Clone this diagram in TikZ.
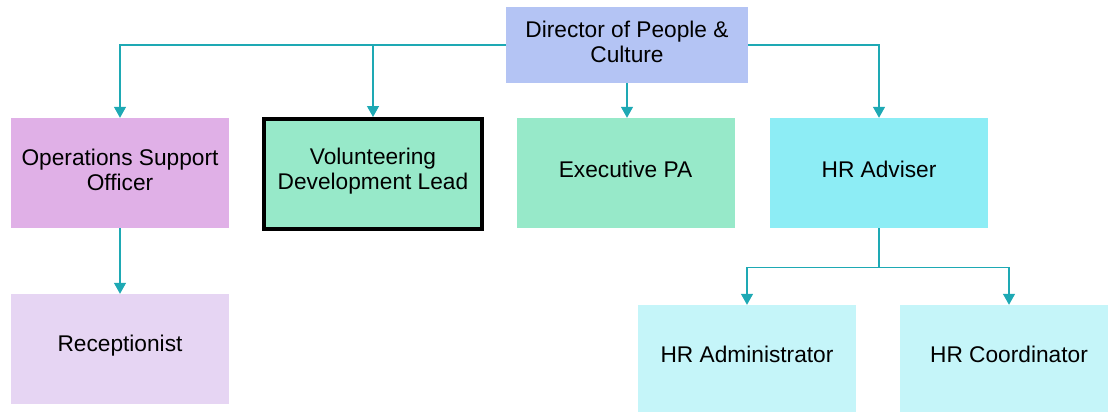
\documentclass[tikz,border=0pt]{standalone}
\usepackage{fontspec}
\setmainfont{Liberation Sans}
\usetikzlibrary{arrows.meta}

\definecolor{linkteal}{HTML}{1EA9B4}
\definecolor{dirblue}{HTML}{B4C4F4}
\definecolor{opsviolet}{HTML}{E0B0E7}
\definecolor{recviolet}{HTML}{E6D5F3}
\definecolor{mint}{HTML}{97E9C9}
\definecolor{hrcyan}{HTML}{8DEDF5}
\definecolor{hrpale}{HTML}{C5F5F9}

\tikzset{
  post/.style={minimum width=218pt, minimum height=110pt, inner sep=0pt, draw=none},
  lbl/.style={align=center, inner sep=0pt, text=black,
              font=\fontsize{22.7}{25}\selectfont},
  link/.style={draw=linkteal, line width=1.3pt,
               -{Triangle[width=12pt,length=11pt]}},
}

\begin{document}
\begin{tikzpicture}[x=1pt, y=-1pt]
  \useasboundingbox (0,0) rectangle (1108,412);

  % boxes
  \node[post, fill=dirblue, minimum width=242pt, minimum height=76pt] (dir) at (627,45) {};
  \node[post, fill=opsviolet] (ops) at (120,173) {};
  \node[post, fill=recviolet] (rec) at (120,349) {};
  \node[post, fill=mint, draw=black, line width=4pt] (vol) at (373,174) {};
  \node[post, fill=mint] (exec) at (625.5,173) {};
  \node[post, fill=hrcyan] (hra) at (879,173) {};
  \node[post, fill=hrpale, minimum height=107pt] (adm) at (747,358.5) {};
  \node[post, fill=hrpale, minimum height=107pt] (crd) at (1009,358.5) {};

  % labels
  \node[lbl] (tdir) at ([yshift=3pt]dir.center) {Director of People \&\\Culture};
  \node[lbl] (tops) at ([yshift=3pt]ops.center) {Operations Support\\Officer};
  \node[lbl] (trec) at ([yshift=3pt]rec.center) {Receptionist};
  \node[lbl] (tvol) at ([yshift=3pt]vol.center) {Volunteering\\Development Lead};
  \node[lbl] (texec) at ([yshift=4pt]exec.center) {Executive PA};
  \node[lbl] (thra) at ([yshift=4pt]hra.center) {HR Adviser};
  \node[lbl] (tadm) at ([yshift=4pt]adm.center) {HR Administrator};
  \node[lbl] (tcrd) at ([yshift=4pt]crd.center) {HR Coordinator};

  % reporting lines
  \draw[link] (dir.west) -| (ops.north);
  \draw[link] (dir.west) -| (vol.north);
  \draw[link] (dir.south) -- (dir.south |- exec.north);
  \draw[link] (dir.east) -| (hra.north);
  \draw[link] (ops.south) -- (rec.north);
  \coordinate (hrbus) at ([yshift=-39pt]hra.south);
  \draw[draw=linkteal, line width=1.3pt] (hra.south) -- (hrbus);
  \draw[link] (hrbus) -| (adm.north);
  \draw[link] (hrbus) -| (crd.north);
\end{tikzpicture}
\end{document}
